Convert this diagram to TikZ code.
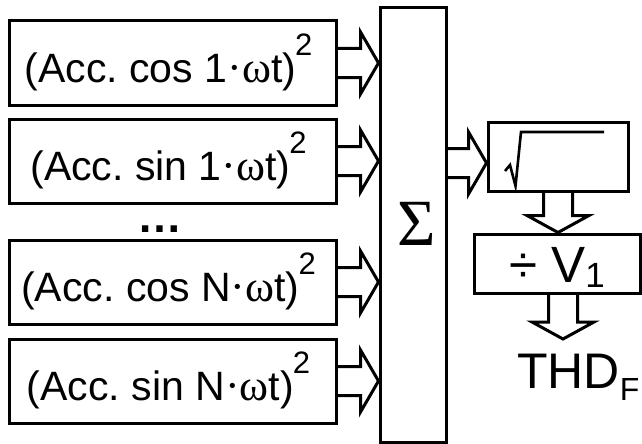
\documentclass[tikz,border=0pt]{standalone}
\usepackage{fontspec}
\setmainfont{Liberation Sans}
\newfontfamily\symserif{Liberation Serif}
\usetikzlibrary{calc}
\frenchspacing

% squared term: raised exponent 2
\newcommand\sqexp{\raisebox{27pt}{\fontsize{31}{31}\selectfont 2}}
\newcommand\accterm[2]{\kern-8pt(Acc. #1 #2{\symserif\fontsize{44}{44}\selectfont·ω}t)\kern-1pt\sqexp}

% hollow block arrow pointing right, at the height of #1, tip at x of #2
\newcommand\rblock[2]{%
  \draw[hollow] let \p1=(#1), \p2=(#2) in
    (\x1,\y1+14.5pt) -- (\x2-18pt,\y1+14.5pt) -- (\x2-18pt,\y1+31pt) --
    (\x2,\y1) --
    (\x2-18pt,\y1-31pt) -- (\x2-18pt,\y1-14.5pt) -- (\x1,\y1-14.5pt);}
% hollow block arrow pointing down, at the x of #1, tip at y of #2
\newcommand\dblock[2]{%
  \draw[hollow] let \p1=(#1), \p2=(#2) in
    (\x1-14.5pt,\y1) -- (\x1-14.5pt,\y2+17pt) -- (\x1-31pt,\y2+17pt) --
    (\x1,\y2) --
    (\x1+31pt,\y2+17pt) -- (\x1+14.5pt,\y2+17pt) -- (\x1+14.5pt,\y1);}

\tikzset{
  blk/.style={draw, line width=3pt, inner sep=0pt},
  term/.style={blk, minimum width=327pt, minimum height=84pt,
    text height=40pt, text depth=2pt, font=\fontsize{41}{41}\selectfont},
  hollow/.style={line width=3pt, line join=miter, miter limit=10},
}

\begin{document}
\begin{tikzpicture}[x=1pt,y=-1pt]
\useasboundingbox (0,0) rectangle (642,444);

% input terms
\node[term] (c1) at (172.5,63)  {\accterm{cos}{1}};
\node[term] (s1) at (172.5,161) {\accterm{sin}{1}};
\node[inner sep=0pt, anchor=base, font=\bfseries\fontsize{45}{45}\selectfont] (dots) at (160,232) {…};
\node[term] (cN) at (172.5,282) {\accterm{cos}{N}};
\node[term] (sN) at (172.5,381) {\accterm{sin}{N}};

% summation block
\node[blk, minimum width=66pt, minimum height=434pt, text height=40pt, text depth=0pt,
      font=\symserif\fontsize{66}{66}\selectfont] (sum) at (413,225) {\kern7pt Σ};

% square root block
\node[blk, minimum width=140pt, minimum height=69pt] (root) at (558,156.5) {};
\draw[line width=2.6pt, line join=miter]
  ($(root.center)+(-53,14.5)$) -- ($(root.center)+(-48,8.5)$) --
  ($(root.center)+(-42.5,29.5)$) -- ($(root.center)+(-37,-24.5)$) --
  ($(root.center)+(46,-24.5)$);

% normalisation block
\node[blk, minimum width=166pt, minimum height=59pt, text height=37pt, text depth=0pt,
      font=\fontsize{51}{51}\selectfont] (div) at (557,263.5)
  {÷ V\lower5pt\hbox{\fontsize{35}{35}\selectfont 1}};

% output
\node[inner sep=0pt, anchor=base west, font=\fontsize{50}{50}\selectfont] (thd) at (517,388)
  {THD\lower12pt\hbox{\fontsize{32}{32}\selectfont F}};
\coordinate (thdin) at (563,339);
\coordinate (rootin) at ($(root.west)+(0,6.5)$);

% connectors
\rblock{c1.east}{sum.west}
\rblock{s1.east}{sum.west}
\rblock{cN.east}{sum.west}
\rblock{sN.east}{sum.west}
\rblock{sum.east |- rootin}{rootin}
\dblock{root.south}{div.north}
\dblock{div.south -| thdin}{thdin}
\end{tikzpicture}
\end{document}
